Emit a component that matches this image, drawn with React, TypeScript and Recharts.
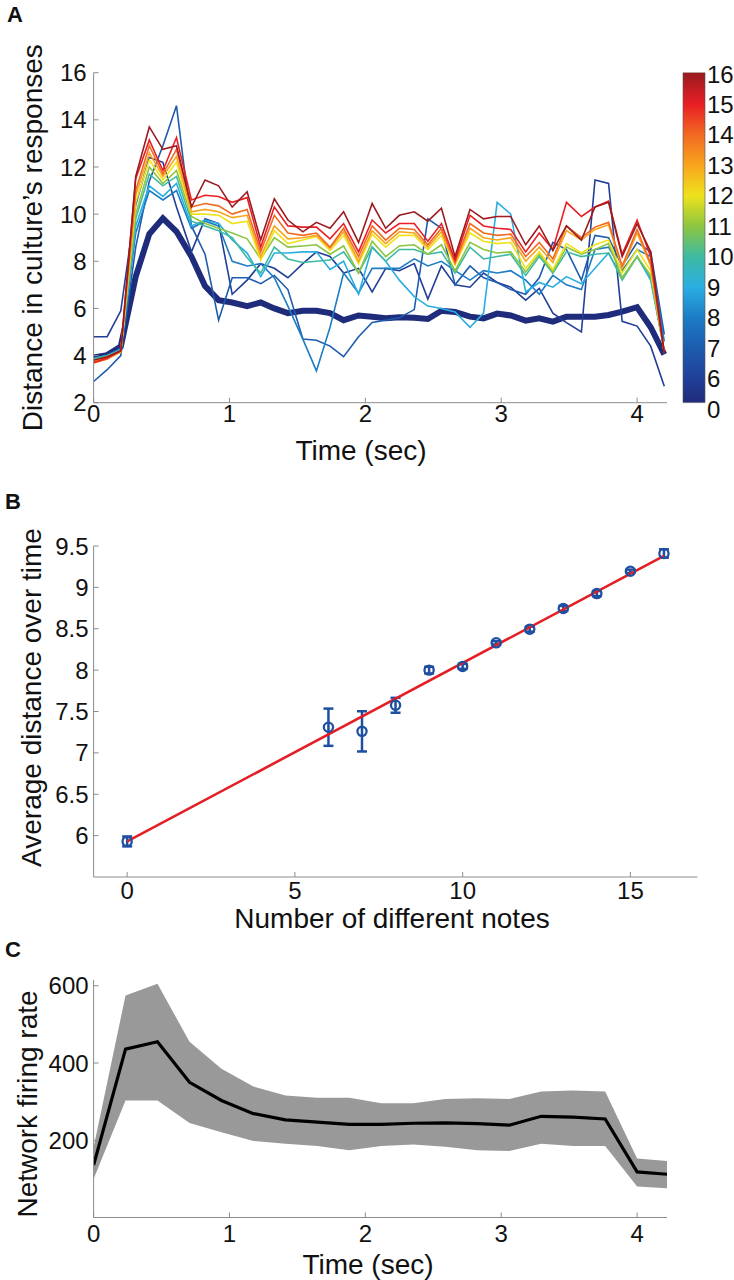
import React from 'react';
import {
  LineChart, Line, XAxis, YAxis, BarChart, Bar, ComposedChart, Scatter, ErrorBar, Area, Label,
} from 'recharts';

const FONT = '"Liberation Sans", Arial, Helvetica, sans-serif';
const AXIS_COLOR = '#8c8c8c';
const TEXT_COLOR = '#111111';

// ---------------- Panel A data ----------------
const timeA = [0, 0.1, 0.2, 0.31, 0.41, 0.51, 0.61, 0.72, 0.82, 0.92, 1.02, 1.13, 1.23, 1.33, 1.43, 1.54, 1.64, 1.74, 1.84, 1.95, 2.05, 2.15, 2.25, 2.36, 2.46, 2.56, 2.66, 2.77, 2.87, 2.97, 3.07, 3.18, 3.28, 3.38, 3.48, 3.59, 3.69, 3.79, 3.89, 4.0, 4.1, 4.2];
const notes0 = [3.92, 4.02, 4.38, 7.35, 9.16, 9.82, 9.26, 8.2, 6.95, 6.35, 6.25, 6.1, 6.25, 6.0, 5.8, 5.9, 5.9, 5.8, 5.5, 5.7, 5.65, 5.58, 5.62, 5.6, 5.55, 5.9, 5.85, 5.65, 5.58, 5.78, 5.7, 5.48, 5.58, 5.44, 5.65, 5.65, 5.65, 5.72, 5.86, 6.05, 5.2, 4.05];
const notes6 = [4.8, 4.8, 5.9, 10.4, 12.4, 12.2, 10.3, 8.4, 9.8, 9.6, 6.6, 7.2, 7.9, 7.7, 7.3, 7.9, 8.4, 8.2, 7.5, 7.7, 6.7, 7.7, 7.6, 7.9, 6.4, 7.8, 7.0, 6.9, 7.5, 7.1, 6.9, 6.35, 6.85, 5.8, 5.4, 5.0, 11.45, 11.3, 5.45, 5.25, 4.4, 2.7];
const notes7 = [2.9, 3.4, 4.0, 8.6, 11.4, 12.9, 14.6, 9.5, 8.3, 5.5, 7.3, 7.3, 7.05, 7.4, 6.8, 4.7, 4.65, 4.4, 3.95, 4.8, 5.4, 5.5, 5.6, 5.95, 9.8, 9.4, 7.0, 7.8, 7.3, 7.1, 6.8, 6.6, 7.3, 8.8, 8.5, 7.2, 9.1, 9.0, 7.8, 8.8, 8.4, 4.9];
const notes8 = [3.9, 4.0, 4.3, 9.2, 11.0, 10.6, 11.0, 9.4, 9.7, 9.5, 8.0, 7.8, 7.9, 7.3, 6.1, 4.7, 3.35, 5.2, 7.5, 6.65, 7.7, 7.7, 7.7, 8.1, 7.8, 8.0, 7.6, 7.2, 7.6, 7.5, 7.6, 7.2, 6.6, 7.4, 7.0, 6.8, 8.5, 8.6, 7.6, 8.5, 8.2, 4.6];
const notes9 = [3.85, 4.0, 4.25, 9.5, 11.2, 10.75, 11.3, 9.5, 9.75, 9.6, 8.9, 8.35, 7.35, 8.35, 8.35, 8.4, 8.4, 7.65, 8.0, 6.6, 8.6, 8.0, 7.2, 6.5, 6.1, 6.0, 5.85, 5.2, 5.8, 10.5, 10.0, 6.7, 7.1, 6.9, 7.35, 7.05, 7.7, 8.35, 7.3, 8.2, 7.2, 4.2];
const notes10 = [3.85, 4.0, 4.2, 9.8, 11.7, 11.2, 11.6, 9.7, 9.5, 9.3, 9.0, 8.15, 7.5, 8.6, 8.1, 7.95, 8.0, 8.05, 8.4, 7.5, 8.6, 8.0, 8.5, 8.5, 8.3, 8.4, 7.5, 8.6, 8.1, 8.2, 8.3, 7.4, 8.2, 7.5, 8.4, 8.2, 8.3, 8.35, 7.2, 8.2, 7.3, 4.2];
const notes11 = [3.8, 3.95, 4.2, 10.0, 12.0, 11.3, 11.85, 9.9, 9.6, 9.4, 9.2, 8.95, 8.1, 9.0, 8.6, 8.65, 8.7, 8.3, 8.65, 7.5, 8.85, 8.2, 8.65, 8.7, 8.3, 8.7, 7.6, 8.8, 8.5, 8.35, 8.4, 7.55, 8.3, 7.55, 8.6, 8.3, 8.5, 8.75, 7.3, 8.2, 7.4, 4.2];
const notes12 = [3.75, 3.9, 4.15, 10.5, 12.3, 11.45, 12.2, 10.0, 10.0, 9.95, 9.6, 9.7, 8.05, 9.3, 8.75, 8.9, 9.05, 8.45, 9.1, 7.9, 9.15, 8.6, 9.1, 9.1, 8.5, 9.1, 7.85, 9.2, 8.85, 8.75, 8.8, 7.7, 8.4, 7.65, 8.75, 8.35, 8.7, 8.9, 7.5, 8.5, 7.6, 4.15];
const notes13 = [3.7, 3.85, 4.15, 10.8, 12.6, 11.6, 12.45, 10.1, 10.2, 10.1, 9.85, 9.95, 8.2, 9.5, 8.95, 9.0, 9.1, 8.55, 9.25, 8.0, 9.3, 8.75, 9.25, 9.2, 8.6, 9.25, 7.9, 9.4, 9.0, 8.9, 9.0, 8.0, 8.6, 7.95, 9.3, 8.9, 9.35, 9.55, 7.7, 9.2, 7.8, 4.15];
const notes14 = [3.7, 3.85, 4.2, 11.0, 12.9, 11.7, 12.75, 10.3, 10.45, 10.35, 10.0, 10.2, 8.4, 9.95, 9.2, 9.1, 9.2, 8.6, 9.4, 8.2, 9.5, 8.9, 9.4, 9.35, 8.7, 9.4, 7.95, 9.6, 9.2, 9.1, 9.15, 8.2, 8.8, 8.1, 9.5, 9.0, 9.45, 9.65, 7.8, 9.35, 7.9, 4.1];
const notes15 = [3.7, 3.9, 4.2, 11.5, 13.15, 11.85, 13.25, 10.6, 10.8, 10.75, 10.5, 10.7, 8.6, 10.3, 9.5, 9.45, 9.45, 8.95, 9.6, 8.4, 9.75, 9.2, 9.6, 9.6, 8.85, 9.6, 8.05, 9.95, 9.5, 9.4, 9.35, 8.4, 9.2, 8.5, 10.5, 9.9, 10.3, 10.55, 8.3, 9.75, 8.2, 4.1];
const notes16 = [3.8, 3.95, 4.2, 11.6, 13.7, 12.75, 12.9, 10.3, 11.45, 11.2, 10.3, 10.95, 8.9, 10.65, 9.75, 9.25, 9.65, 9.4, 10.1, 8.8, 10.45, 9.4, 9.95, 10.1, 9.7, 10.25, 8.2, 10.2, 9.8, 9.9, 9.9, 8.7, 9.5, 8.45, 9.5, 8.9, 10.3, 10.5, 8.2, 9.6, 8.4, 4.1];

const noteCounts = [0, 6, 7, 8, 9, 10, 11, 12, 13, 14, 15, 16];
const noteColors = ['#1f2b7b', '#213f98', '#1d5cae', '#1c7cc4', '#2aaee2', '#3fbaa2', '#8cc540', '#eee21d', '#f8a51c', '#f26a22', '#e91f25', '#9b1b1f'];
const seriesA = [notes0, notes6, notes7, notes8, notes9, notes10, notes11, notes12, notes13, notes14, notes15, notes16];
const timeTicksA = [0, 1, 2, 3, 4];
const distanceTicks = [2, 4, 6, 8, 10, 12, 14, 16];

const colorbarTicks = [0, 1, 2, 3, 4, 5, 6, 7, 8, 9, 10, 11];
const colorbarLabels = ['0', '6', '7', '8', '9', '10', '11', '12', '13', '14', '15', '16'];
const colorbarRange = [0.21, 11.05];

// ---------------- Panel B data ----------------
const notesB = [0, 6, 7, 8, 9, 10, 11, 12, 13, 14, 15, 16];
const avgDistB = [5.93, 7.31, 7.26, 7.575, 8.0, 8.045, 8.33, 8.495, 8.745, 8.925, 9.195, 9.41];
const errB = [0.06, 0.225, 0.243, 0.09, 0.04, 0.03, 0.02, 0.03, 0.03, 0.03, 0.02, 0.05];
const fitX = [0, 16];
const fitY = [5.93, 9.38];
const notesTicksB = [0, 5, 10, 15];
const avgTicksB = [6, 6.5, 7, 7.5, 8, 8.5, 9, 9.5];

// ---------------- Panel C data ----------------
const timeC = [0, 0.235, 0.47, 0.706, 0.941, 1.176, 1.412, 1.647, 1.882, 2.118, 2.353, 2.588, 2.824, 3.059, 3.294, 3.529, 3.765, 4.0, 4.22];
const meanC = [136, 436, 455, 350, 303, 269, 253, 247, 241, 241, 244, 245, 243, 239, 262, 260, 255, 118, 112];
const upperC = [182, 575, 605, 455, 385, 339, 316, 310, 310, 296, 296, 307, 309, 307, 326, 329, 326, 153, 146];
const lowerC = [100, 303, 303, 245, 221, 198, 191, 185, 174, 185, 189, 183, 174, 172, 191, 185, 185, 80, 76];
const timeTicksC = [0, 1, 2, 3, 4];
const rateTicksC = [200, 400, 600];

// ---------------- derived tables ----------------
const rowsA = timeA.map((t, i) => {
  const r: Record<string, number> = { t };
  noteCounts.forEach((n, k) => { r['n' + n] = seriesA[k][i]; });
  return r;
});
const colorbarRows = [{ name: 'cb', range: colorbarRange }];
const pointsB = notesB.map((x, i) => ({ x, y: avgDistB[i], err: errB[i] }));
const fitRows = fitX.map((x, i) => ({ x, y: fitY[i] }));
const rowsC = timeC.map((t, i) => ({ t, mean: meanC[i], band: [lowerC[i], upperC[i]] }));

const tickStyle = (size: number) => ({ fill: TEXT_COLOR, fontSize: size, fontFamily: FONT });

const textLabel = (
  x: number, y: number, value: string, size: number,
  opts: { rotate?: boolean; bold?: boolean; anchor?: 'start' | 'middle' | 'end' } = {},
) => (
  <Label
    content={() => (
      <text
        x={x}
        y={y}
        fontSize={size}
        fontFamily={FONT}
        fill={TEXT_COLOR}
        fontWeight={opts.bold ? 700 : 400}
        textAnchor={opts.anchor ?? 'middle'}
        transform={opts.rotate ? `rotate(-90 ${x} ${y})` : undefined}
      >
        {value}
      </text>
    )}
  />
);

const OpenCircle = (props: any) => (
  <circle cx={props.cx} cy={props.cy} r={4.6} fill="none" stroke="#1f4fa0" strokeWidth={2.3} />
);
const NoShape = () => <g />;

const gradientStops = colorbarTicks
  .slice()
  .reverse()
  .map((k) => {
    const off = Math.min(1, Math.max(0, (colorbarRange[1] - k) / (colorbarRange[1] - colorbarRange[0])));
    return <stop key={k} offset={off} stopColor={noteColors[k]} />;
  });

export default function App() {
  return (
    <div style={{ position: 'absolute', left: 0, top: 0, width: 734, height: 1280, background: '#ffffff' }}>
      {/* Panel A */}
      <div style={{ position: 'absolute', left: 0, top: 0 }}>
        <LineChart width={734} height={475} data={rowsA} margin={{ top: 72.7, right: 67, bottom: 42.3, left: 33.6 }}>
          <XAxis
            type="number" dataKey="t" domain={[0, 4.22]} ticks={timeTicksA} allowDataOverflow interval={0}
            height={30} stroke={AXIS_COLOR} tickSize={-5} tickMargin={7} tick={tickStyle(24)}
          >
            {textLabel(361, 460, 'Time (sec)', 28)}
          </XAxis>
          <YAxis
            type="number" domain={[2, 16]} ticks={distanceTicks} allowDataOverflow interval={0}
            width={60} stroke={AXIS_COLOR} tickSize={-5} tickMargin={12} tick={tickStyle(24)}
          >
            {textLabel(42, 237.7, 'Distance in culture\u2019s responses', 28, { rotate: true })}
            {textLabel(7, 22, 'A', 22, { bold: true, anchor: 'start' })}
          </YAxis>
          {noteCounts.map((n, k) => (
            <Line
              key={n}
              type="linear"
              dataKey={'n' + n}
              stroke={noteColors[k]}
              strokeWidth={n === 0 ? 6 : 1.6}
              dot={false}
              activeDot={false}
              isAnimationActive={false}
            />
          ))}
        </LineChart>
      </div>

      {/* Colorbar */}
      <div style={{ position: 'absolute', left: 0, top: 0 }}>
        <BarChart width={734} height={475} data={colorbarRows} margin={{ top: 72.5, right: 0, bottom: 66, left: 683 }} barCategoryGap={0}>
          <defs>
            <linearGradient id="jetGradient" x1="0" y1="0" x2="0" y2="1">
              {gradientStops}
            </linearGradient>
          </defs>
          <XAxis dataKey="name" hide />
          <YAxis
            orientation="right" type="number" domain={[0, 11.05]} ticks={colorbarTicks} allowDataOverflow
            interval={0} width={29} axisLine={false} tickLine={false} tickSize={0} tickMargin={2}
            tickFormatter={(v: number) => colorbarLabels[v]} tick={tickStyle(24)}
          />
          <Bar dataKey="range" fill="url(#jetGradient)" stroke="#555" strokeWidth={0.6} isAnimationActive={false} />
        </BarChart>
      </div>

      {/* Panel B */}
      <div style={{ position: 'absolute', left: 0, top: 460 }}>
        <ComposedChart width={734} height={480} margin={{ top: 86, right: 36.5, bottom: 33, left: 33.6 }}>
          <XAxis
            type="number" dataKey="x" domain={[-1, 17]} ticks={notesTicksB} allowDataOverflow interval={0}
            height={30} stroke={AXIS_COLOR} tickSize={-5} tickMargin={10} tick={tickStyle(24)}
          >
            {textLabel(392, 468, 'Number of different notes', 28)}
          </XAxis>
          <YAxis
            type="number" dataKey="y" domain={[5.5, 9.5]} ticks={avgTicksB} allowDataOverflow interval={0}
            width={60} stroke={AXIS_COLOR} tickSize={-5} tickMargin={10} tick={tickStyle(24)}
          >
            {textLabel(41, 237.5, 'Average distance over time', 28, { rotate: true })}
            {textLabel(5, 49, 'B', 22, { bold: true, anchor: 'start' })}
          </YAxis>
          <Scatter
            data={fitRows} dataKey="y" shape={NoShape}
            line={{ stroke: '#e31e24', strokeWidth: 2.6 }} isAnimationActive={false}
          />
          <Scatter data={pointsB} dataKey="y" shape={OpenCircle} isAnimationActive={false}>
            <ErrorBar dataKey="err" direction="y" width={5} stroke="#1f4fa0" strokeWidth={2.5} />
          </Scatter>
        </ComposedChart>
      </div>

      {/* Panel C */}
      <div style={{ position: 'absolute', left: 0, top: 930 }}>
        <ComposedChart width={734} height={350} data={rowsC} margin={{ top: 50, right: 67, bottom: 32.5, left: 33.6 }}>
          <XAxis
            type="number" dataKey="t" domain={[0, 4.22]} ticks={timeTicksC} allowDataOverflow interval={0}
            height={30} stroke={AXIS_COLOR} tickSize={-5} tickMargin={12} tick={tickStyle(24)}
          >
            {textLabel(368, 344, 'Time (sec)', 28)}
          </XAxis>
          <YAxis
            type="number" domain={[0, 615]} ticks={rateTicksC} allowDataOverflow interval={0}
            width={60} stroke={AXIS_COLOR} tickSize={-5} tickMargin={10} tick={tickStyle(24)}
          >
            {textLabel(37, 174, 'Network firing rate', 28, { rotate: true })}
            {textLabel(5, 27, 'C', 22, { bold: true, anchor: 'start' })}
          </YAxis>
          <Area
            type="linear" dataKey="band" fill="#999999" fillOpacity={1} stroke="none"
            dot={false} activeDot={false} isAnimationActive={false}
          />
          <Line
            type="linear" dataKey="mean" stroke="#000000" strokeWidth={3.2}
            dot={false} activeDot={false} isAnimationActive={false}
          />
        </ComposedChart>
      </div>
    </div>
  );
}
